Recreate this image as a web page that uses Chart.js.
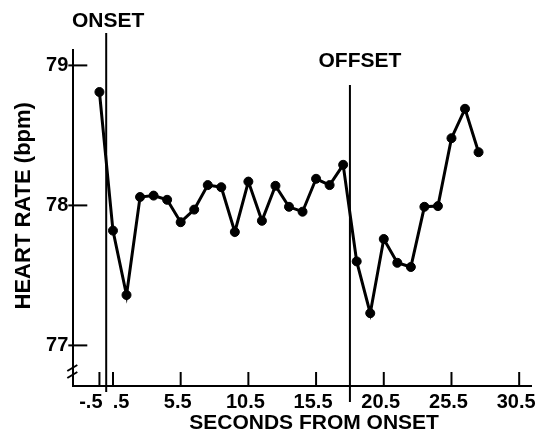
<!DOCTYPE html>
<html>
<head>
<meta charset="utf-8">
<script src="https://cdn.jsdelivr.net/npm/chart.js@4.4.0/dist/chart.umd.min.js"></script>
<style>
  html, body { margin: 0; padding: 0; background: #fff; }
  #wrap { width: 537px; height: 434px; }
</style>
</head>
<body>
<div id="wrap"><canvas id="hrChart"></canvas></div>
<script>
// seconds relative to stimulus onset
const seconds = [-0.5, 0.5, 1.5, 2.5, 3.5, 4.5, 5.5, 6.5, 7.5, 8.5, 9.5, 10.5, 11.5, 12.5,
    13.5, 14.5, 15.5, 16.5, 17.5, 18.5, 19.5, 20.5, 21.5, 22.5, 23.5, 24.5, 25.5, 26.5, 27.5];
const heartRate = [78.81, 77.82, 77.36, 78.06, 78.07, 78.04, 77.88, 77.97, 78.145, 78.13,
    77.81, 78.17, 77.89, 78.14, 77.99, 77.955, 78.19, 78.145, 78.29, 77.60,
    77.23, 77.76, 77.59, 77.56, 77.99, 77.995, 78.48, 78.69, 78.38];

const xTickValues = [-0.5, 0.5, 5.5, 10.5, 15.5, 20.5, 25.5, 30.5];
const xTickLabels = ['-.5  ', '    .5', '5.5', '10.5', '15.5', '20.5', '25.5', '30.5'];
const yTickValues = [77, 78, 79];

const markerTimes = [0, 18];
const markerLabels = ['ONSET', 'OFFSET'];

const FONT = "'Liberation Sans', Arial, sans-serif";

// onset / offset lines, tick marks and the axis break
const decorations = {
    id: 'decorations',
    afterDraw(chart) {
        const { ctx, chartArea } = chart;
        const xs = chart.scales.x;
        const ys = chart.scales.y;
        ctx.save();
        ctx.strokeStyle = '#000';
        ctx.fillStyle = '#000';

        // inner tick marks
        ctx.lineWidth = 2;
        xs.ticks.forEach(t => {
            const px = xs.getPixelForValue(t.value);
            ctx.beginPath();
            ctx.moveTo(px, chartArea.bottom);
            ctx.lineTo(px, chartArea.bottom - 14);
            ctx.stroke();
        });
        ys.ticks.forEach(t => {
            const py = ys.getPixelForValue(t.value);
            ctx.beginPath();
            ctx.moveTo(chartArea.left - 5, py);
            ctx.lineTo(chartArea.left + 14, py);
            ctx.stroke();
        });

        // axis break "//"
        const bx = chartArea.left;
        const by = chartArea.bottom - 18;
        ctx.lineWidth = 2;
        [0, 7].forEach(d => {
            ctx.beginPath();
            ctx.moveTo(bx - 6, by + d + 3);
            ctx.lineTo(bx + 4, by + d - 3);
            ctx.stroke();
        });

        // onset / offset markers
        const tops = [chartArea.top - 17, chartArea.top + 35];
        const bottoms = [chartArea.bottom + 6, chartArea.bottom + 16];
        const labelDx = [2, 10];
        const labelGap = [1, 13];
        ctx.lineWidth = 2;
        ctx.font = 'bold 21px ' + FONT;
        ctx.textAlign = 'center';
        ctx.textBaseline = 'bottom';
        markerTimes.forEach((t, i) => {
            const px = xs.getPixelForValue(t);
            ctx.beginPath();
            ctx.moveTo(px, tops[i]);
            ctx.lineTo(px, bottoms[i]);
            ctx.stroke();
            ctx.fillText(markerLabels[i], px + labelDx[i], tops[i] - labelGap[i]);
        });
        ctx.restore();
    }
};

const ctx = document.getElementById('hrChart').getContext('2d');
new Chart(ctx, {
    type: 'line',
    data: {
        datasets: [{
            data: seconds.map((s, i) => ({ x: s, y: heartRate[i] })),
            borderColor: '#000',
            backgroundColor: '#000',
            borderWidth: 3,
            pointRadius: 4.5,
            pointBorderWidth: 1,
            pointHoverRadius: 4.5,
            tension: 0
        }]
    },
    options: {
        responsive: true,
        maintainAspectRatio: false,
        animation: false,
        events: [],
        layout: { padding: { top: 50, left: 0, right: 0, bottom: 0 } },
        plugins: {
            legend: { display: false },
            tooltip: { enabled: false }
        },
        scales: {
            x: {
                type: 'linear',
                min: -2.43,
                max: 31.41,
                afterBuildTicks: s => { s.ticks = xTickValues.map(v => ({ value: v })); },
                afterFit: s => { s.height = 48; s.paddingLeft = 0; s.paddingRight = 0; },
                grid: { drawOnChartArea: false, drawTicks: false },
                border: { display: true, color: '#000', width: 2 },
                ticks: {
                    autoSkip: false,
                    maxRotation: 0,
                    padding: 4,
                    labelOffset: -3,
                    color: '#000',
                    font: { family: FONT, size: 20, weight: 'bold' },
                    callback: (v, i) => xTickLabels[i]
                },
                title: {
                    display: true,
                    text: '    SECONDS FROM ONSET',
                    color: '#000',
                    font: { family: FONT, size: 21, weight: 'bold' },
                    padding: { top: 0, bottom: -2 }
                }
            },
            y: {
                min: 76.71,
                max: 79.11,
                afterBuildTicks: s => { s.ticks = yTickValues.map(v => ({ value: v })); },
                afterFit: s => { s.width = 73.3; s.paddingTop = 0; s.paddingBottom = 0; },
                grid: { drawOnChartArea: false, drawTicks: false },
                border: { display: true, color: '#000', width: 2 },
                ticks: {
                    padding: 5,
                    color: '#000',
                    font: { family: FONT, size: 20, weight: 'bold' },
                    callback: v => String(v)
                },
                title: {
                    display: true,
                    text: '    HEART RATE (bpm)',
                    color: '#000',
                    font: { family: FONT, size: 22, weight: 'bold' },
                    padding: { top: 11, bottom: 0 }
                }
            }
        }
    },
    plugins: [decorations]
});
</script>
</body>
</html>
